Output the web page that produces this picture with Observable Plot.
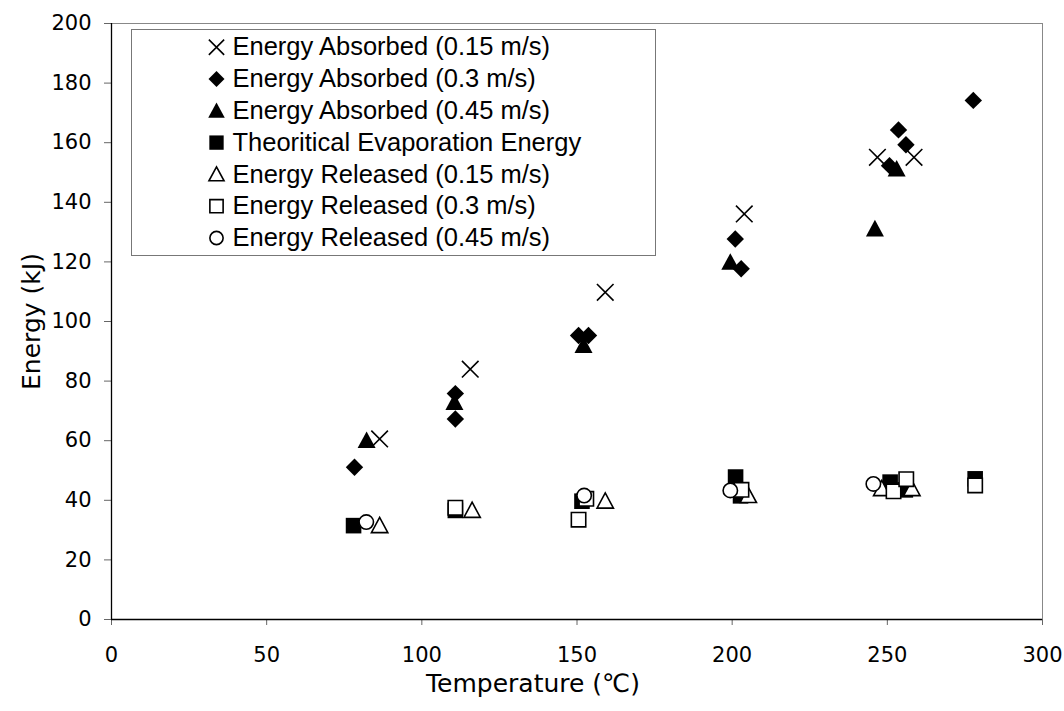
<!DOCTYPE html>
<html><head><meta charset="utf-8">
<script src="https://cdn.jsdelivr.net/npm/d3@7"></script>
<script src="https://cdn.jsdelivr.net/npm/@observablehq/plot@0.6"></script>
<style>body{margin:0;background:#fff}</style>
</head><body><div id="chart"></div>
<script>
// ---- data (temperature °C, energy kJ) ----
const seriesNames = [
  "Energy Absorbed (0.15 m/s)",
  "Energy Absorbed (0.3 m/s)",
  "Energy Absorbed (0.45 m/s)",
  "Theoritical Evaporation Energy",
  "Energy Released (0.15 m/s)",
  "Energy Released (0.3 m/s)",
  "Energy Released (0.45 m/s)"
];
const absorbed015 = [[86.4,60.6],[115.6,84],[159.1,109.8],[203.9,136.1],[246.8,155.1],[258.6,155.1]];
const absorbed03  = [[78.3,51.1],[110.8,75.8],[110.8,67.3],[150.5,95.3],[153.7,95.3],[201,127.7],[202.9,117.7],[250.7,152.3],[253.6,164.3],[256,159.3],[277.7,174.2]];
const absorbed045 = [[82.2,60.1],[110.5,72.9],[152.1,92],[199.4,119.9],[246,131.1],[253,151.2]];
const theoretical = [[78,31.5],[110.8,36.6],[151.6,39.7],[201.1,47.8],[202.7,41.5],[250.9,46.1],[255.8,43.5],[278.3,47.2]];
const released015 = [[86.4,31.5],[116.2,36.6],[159.1,39.7],[205.2,41.6],[248.2,43.9],[257.9,43.9]];
const released03  = [[110.8,37.5],[150.5,33.5],[153,40.5],[203,43.5],[252,43],[256.1,47.1],[278.3,45]];
const released045 = [[82.1,32.7],[152.3,41.6],[199.4,43.3],[245.5,45.5]];
const xTicks = [0,50,100,150,200,250,300];
const yTicks = [0,20,40,60,80,100,120,140,160,180,200];
const xLabel = "Temperature (℃)";
const yLabel = "Energy (kJ)";

// ---- symbols ----
const rad = s => Math.sqrt(s / Math.PI);
const symX = {draw(c,s){const r=rad(s);c.moveTo(-r,-r);c.lineTo(r,r);c.moveTo(-r,r);c.lineTo(r,-r);}};
const symDiamond = {draw(c,s){const r=rad(s);c.moveTo(0,-r);c.lineTo(r,0);c.lineTo(0,r);c.lineTo(-r,0);c.closePath();}};
const symTri = {draw(c,s){const r=rad(s);c.moveTo(0,-r);c.lineTo(r,r*0.85);c.lineTo(-r,r*0.85);c.closePath();}};
const symSquare = {draw(c,s){const r=rad(s);c.rect(-r,-r,2*r,2*r);}};
const symCircle = {draw(c,s){const r=rad(s);c.moveTo(r,0);c.arc(0,0,r,0,2*Math.PI);}};

const styles = [
  {data: absorbed015, symbol: symX, r: 8.3, fill: "none", stroke: "#000", strokeWidth: 1.6},
  {data: absorbed03, symbol: symDiamond, r: 8.7, fill: "#000", stroke: "none", strokeWidth: 0},
  {data: absorbed045, symbol: symTri, r: 9, fill: "#000", stroke: "none", strokeWidth: 0},
  {data: theoretical, symbol: symSquare, r: 7.8, fill: "#000", stroke: "none", strokeWidth: 0},
  {data: released015, symbol: symTri, r: 8.2, fill: "#fff", stroke: "#000", strokeWidth: 1.6},
  {data: released03, symbol: symSquare, r: 7.2, fill: "#fff", stroke: "#000", strokeWidth: 1.6},
  {data: released045, symbol: symCircle, r: 7.2, fill: "#fff", stroke: "#000", strokeWidth: 1.6}
];

const marks = [
  Plot.frame({stroke: "#888", strokeWidth: 1}),
  Plot.axisY({ticks: yTicks, tickSize: 7, tickPadding: 13, label: null, stroke: "#666",
              fontFamily: "DejaVu Sans", fontSize: 21}),
  Plot.axisX({ticks: xTicks, tickSize: 6, tickPadding: 22, label: null, stroke: "#666",
              fontFamily: "DejaVu Sans", fontSize: 21}),
  Plot.ruleY([0], {stroke: "#000", strokeWidth: 1.3}),
  Plot.ruleX([0], {stroke: "#000", strokeWidth: 1.3}),
  Plot.text([xLabel], {frameAnchor: "bottom", dx: -44, dy: 64, lineAnchor: "middle", textAnchor: "middle",
    text: d => d, fontSize: 25, fontFamily: "DejaVu Sans", fill: "#000"}),
  Plot.text([yLabel], {frameAnchor: "left", dx: -80, rotate: -90, lineAnchor: "middle", textAnchor: "middle",
    text: d => d, fontSize: 25, fontFamily: "DejaVu Sans", fill: "#000"})
];

styles.forEach(st => {
  marks.push(Plot.dot(st.data, {x: d => d[0], y: d => d[1], symbol: st.symbol, r: st.r,
    fill: st.fill, stroke: st.stroke, strokeWidth: st.strokeWidth}));
});

// legend box inside plot area
marks.push(Plot.frame({insetLeft: 20, insetTop: 6, insetRight: 387, insetBottom: 364, fill: "#fff", stroke: "#777", strokeWidth: 1}));
styles.forEach((st, i) => {
  const dy = 23.7 + i * 31.8;
  marks.push(Plot.dot([seriesNames[i]], {frameAnchor: "top-left", dx: 105, dy, symbol: st.symbol, r: st.r * 0.92,
    fill: st.fill, stroke: st.stroke, strokeWidth: st.strokeWidth}));
  marks.push(Plot.text([seriesNames[i]], {frameAnchor: "top-left", dx: 121, dy, text: d => d,
    textAnchor: "start", lineAnchor: "middle", fontSize: 25.5, fontFamily: "Liberation Sans", fill: "#000"}));
});

const chart = Plot.plot({
  width: 1064, height: 711,
  marginLeft: 111, marginRight: 22, marginTop: 23, marginBottom: 92,
  style: {fontFamily: "Liberation Sans", color: "#000", background: "#fff"},
  x: {domain: [0, 300]},
  y: {domain: [0, 200]},
  marks
});
document.getElementById("chart").appendChild(chart);
</script>
</body></html>
